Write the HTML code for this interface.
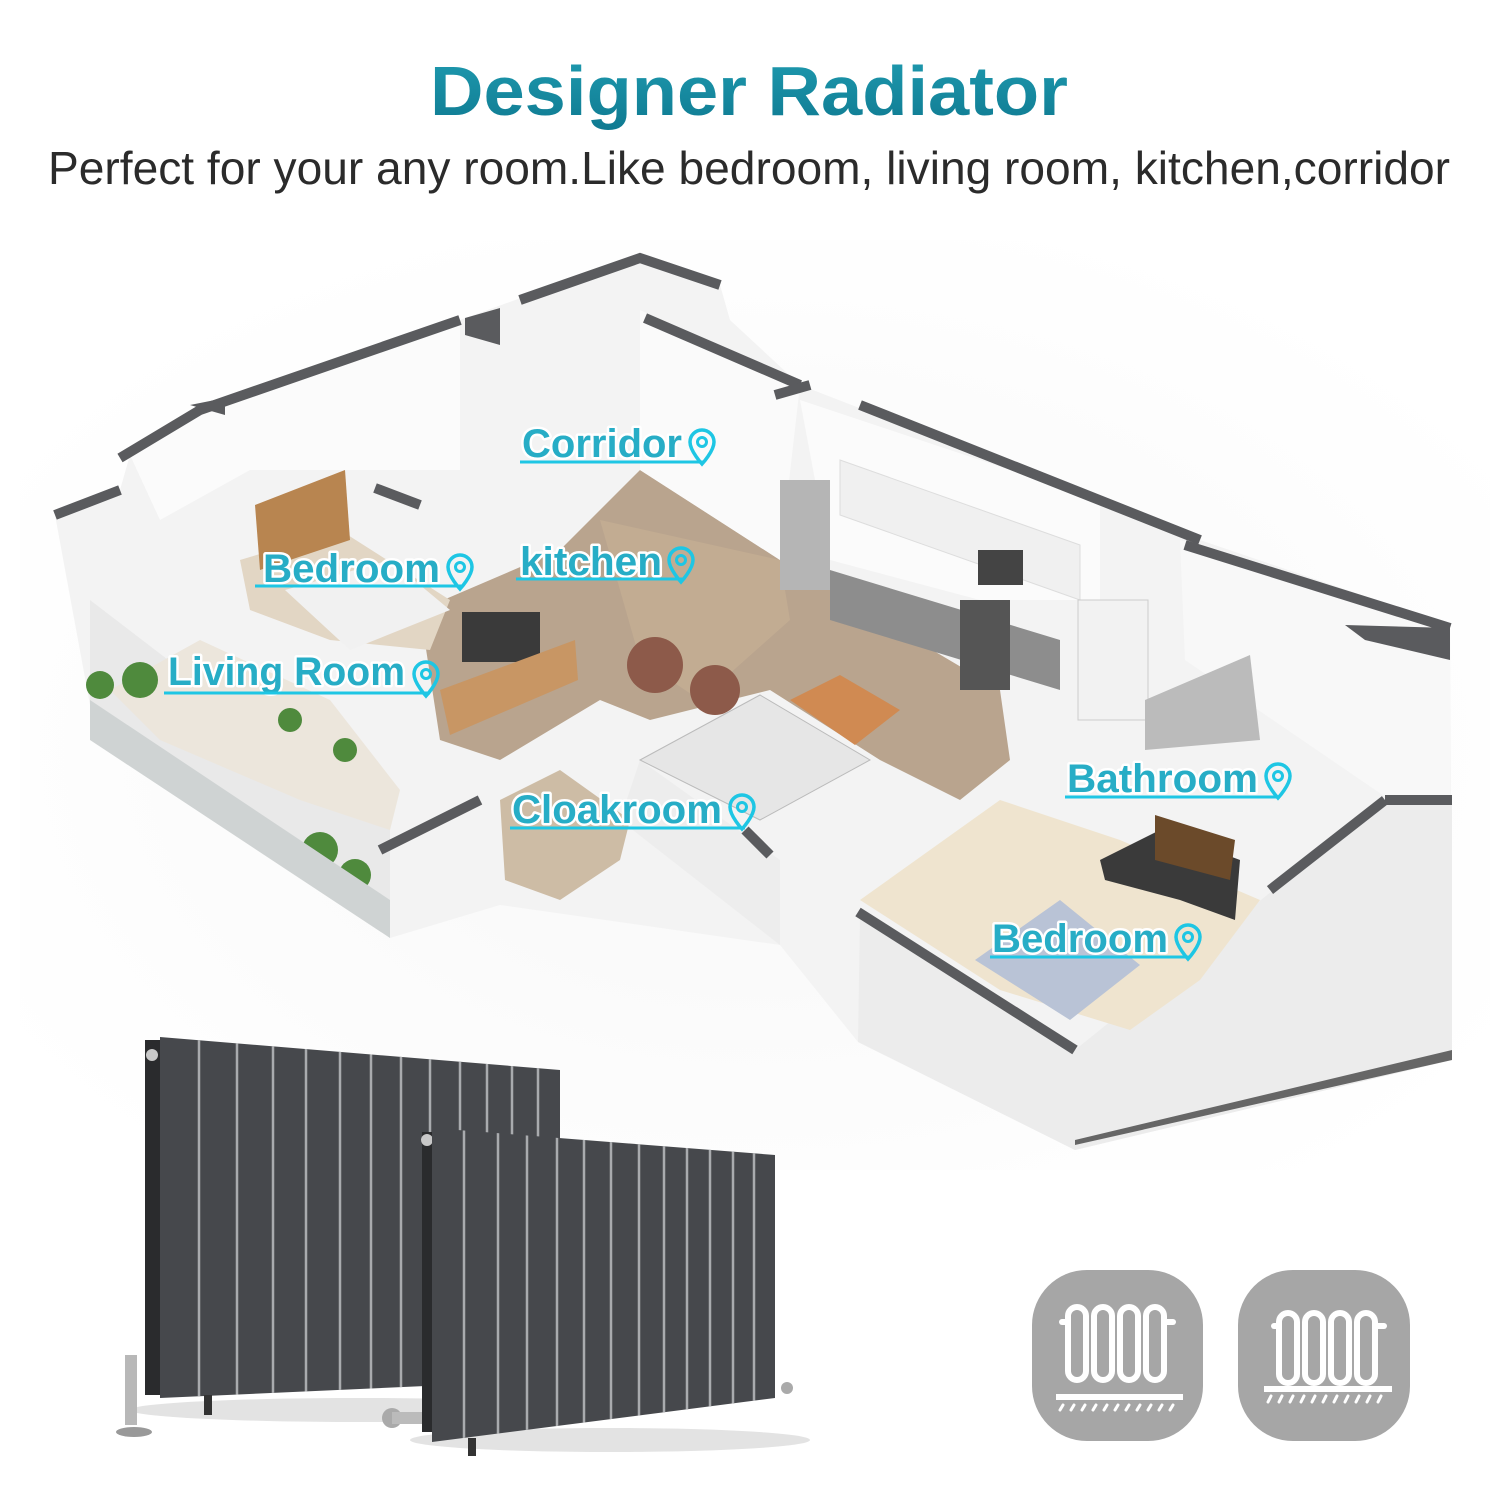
<!DOCTYPE html>
<html><head><meta charset="utf-8"><style>
html,body{margin:0;padding:0;background:#fff}
svg{display:block}
.lb{font-family:"Liberation Sans",sans-serif;font-weight:bold;font-size:40px;fill:#27adc6;stroke:#fff;stroke-width:5px;paint-order:stroke;stroke-linejoin:round}
</style></head><body>
<svg width="1500" height="1500" viewBox="0 0 1500 1500" xmlns="http://www.w3.org/2000/svg">
<defs>
<linearGradient id="tg" x1="0" y1="0" x2="0" y2="1"><stop offset="0" stop-color="#1f9bb0"/><stop offset="1" stop-color="#0f7a91"/></linearGradient>
<radialGradient id="bg" cx="0.5" cy="0.55" r="0.6"><stop offset="0" stop-color="#f7f7f7"/><stop offset="1" stop-color="#ffffff"/></radialGradient>
<clipPath id="cb"><polygon points="160,1037 560,1070 560,1380 160,1398"/></clipPath>
<clipPath id="cf"><polygon points="432,1128 775,1155 775,1398 432,1442"/></clipPath>
<g id="pin"><path d="M0,-22 a12,12 0 0 1 12,12 c0,9 -12,22 -12,22 c0,0 -12,-13 -12,-22 a12,12 0 0 1 12,-12z" fill="none" stroke="#1ec6e4" stroke-width="3.5"/><circle cx="0" cy="-10" r="4.5" fill="none" stroke="#1ec6e4" stroke-width="3"/></g>
</defs>
<rect width="1500" height="1500" fill="#fff"/>
<rect x="20" y="240" width="1470" height="930" fill="url(#bg)"/>

<text x="749" y="115" text-anchor="middle" font-family="Liberation Sans,sans-serif" font-weight="bold" font-size="70" fill="url(#tg)" textLength="638" lengthAdjust="spacingAndGlyphs">Designer Radiator</text>
<text x="48" y="184" font-family="Liberation Sans,sans-serif" font-size="46" fill="#2b2b2b" textLength="1402" lengthAdjust="spacingAndGlyphs">Perfect for your any room.Like bedroom, living room, kitchen,corridor</text>

<!-- floor plan base (walls/exterior) -->
<polygon points="55,515 120,490 130,455 200,410 460,320 640,255 720,285 730,320 800,385 1200,540 1450,625 1452,1060 1075,1150 858,1042 780,945 500,905 390,938 90,705" fill="#f3f3f3"/>
<!-- exterior front walls shading -->
<polygon points="90,705 390,938 390,830 90,600" fill="#e9e9e9"/>
<polygon points="860,915 1075,1050 1385,800 1452,800 1452,1060 1075,1150 858,1042" fill="#ececec"/>
<polygon points="620,820 780,945 780,860 640,760" fill="#ededed"/>
<!-- floors -->
<polygon points="420,610 560,550 640,470 780,560 1000,690 1010,760 960,800 880,760 770,690 650,720 600,700 500,760 440,740" fill="#b9a48e"/>
<polygon points="600,520 780,560 790,620 700,700 640,660" fill="#c2ac92"/>
<polygon points="240,560 340,530 450,600 430,650 330,640 250,610" fill="#e2d6c4"/>
<polygon points="110,690 200,640 330,700 400,790 390,830 300,800 160,740" fill="#ece6dc"/>
<polygon points="860,900 1000,800 1120,840 1260,900 1200,980 1130,1030 1000,990" fill="#efe4cf"/>
<polygon points="500,800 560,770 630,820 620,860 560,900 505,880" fill="#cdbca5"/>
<!-- interior walls/white blocks -->
<polygon points="640,310 800,385 780,560 640,470" fill="#fafafa"/>
<polygon points="800,400 1100,500 1100,600 980,600 830,560" fill="#fbfbfb"/>
<polygon points="130,455 200,410 460,320 460,470 250,470 160,520" fill="#fbfbfb"/>
<polygon points="1180,540 1450,625 1450,800 1390,800 1185,660" fill="#f8f8f8"/>
<!-- kitchen cabinets & appliances -->
<polygon points="840,460 1080,545 1080,600 840,515" fill="#f0f0f0" stroke="#ddd"/>
<polygon points="830,570 1060,640 1060,690 830,620" fill="#8d8d8d"/>
<rect x="780" y="480" width="50" height="110" fill="#b5b5b5"/>
<rect x="960" y="600" width="50" height="90" fill="#555"/>
<rect x="978" y="550" width="45" height="35" fill="#444"/>
<rect x="1078" y="600" width="70" height="120" fill="#f2f2f2" stroke="#ccc"/>
<!-- bedroom1 -->
<polygon points="255,505 345,470 350,540 260,570" fill="#b88550"/>
<polygon points="285,590 390,560 450,610 350,650" fill="#f1f1f1"/>
<!-- living tv etc -->
<rect x="462" y="612" width="78" height="50" fill="#3a3a3a"/>
<polygon points="440,690 575,640 578,680 450,735" fill="#c89664"/>
<circle cx="655" cy="665" r="28" fill="#8d5a4a"/>
<circle cx="715" cy="690" r="25" fill="#8d5a4a"/>
<polygon points="790,700 840,675 900,710 855,745" fill="#d08a52"/>
<polygon points="640,760 760,695 870,760 760,820" fill="#e6e6e6" stroke="#bbb"/>
<!-- bathroom top -->
<polygon points="1145,700 1250,655 1260,740 1145,750" fill="#bbb"/>
<rect x="1428" y="1000" width="0" height="0"/>
<polygon points="1100,860 1160,830 1240,860 1235,920 1180,900 1105,880" fill="#3a3a3a"/>
<polygon points="1155,815 1235,840 1230,880 1155,860" fill="#6b4a2a"/>
<polygon points="975,960 1060,900 1140,965 1070,1020" fill="#b9c3d6"/>
<!-- balcony plants -->
<g fill="#4f8a3d"><circle cx="100" cy="685" r="14"/><circle cx="140" cy="680" r="18"/><circle cx="320" cy="850" r="18"/><circle cx="355" cy="875" r="16"/><circle cx="290" cy="720" r="12"/><circle cx="345" cy="750" r="12"/></g>
<polygon points="90,700 390,900 390,938 90,740" fill="#cfd3d3"/>
<!-- wall tops -->
<g fill="none" stroke="#5a5b5e" stroke-width="10" stroke-linejoin="miter">
<polyline points="55,515 120,490"/>
<polyline points="120,458 200,410 460,320"/>
<polyline points="520,300 640,258 720,285"/>
<polyline points="645,318 800,385"/>
<polyline points="775,395 810,385"/>
<polyline points="860,405 1200,540"/>
<polyline points="1185,545 1450,628"/>
<polyline points="375,488 420,505"/>
<polyline points="1385,800 1452,800"/>
<polyline points="1270,890 1385,800"/>
<polyline points="858,912 1075,1050"/>
<polyline points="380,850 480,800"/>
<polyline points="745,830 770,855"/>
</g>
<polygon points="1345,625 1450,628 1450,660 1365,640" fill="#5a5b5e"/>
<polygon points="465,318 500,308 500,345 465,335" fill="#5a5b5e"/>
<polygon points="190,405 225,398 225,415" fill="#5a5b5e"/>
<polygon points="1075,1145 1452,1060 1452,1050 1075,1140" fill="#666"/>

<!-- labels -->
<g class="lb">
<text x="522" y="457" textLength="160" lengthAdjust="spacingAndGlyphs">Corridor</text>
<text x="263" y="582" textLength="177" lengthAdjust="spacingAndGlyphs">Bedroom</text>
<text x="520" y="575" textLength="142" lengthAdjust="spacingAndGlyphs">kitchen</text>
<text x="168" y="685" textLength="237" lengthAdjust="spacingAndGlyphs">Living Room</text>
<text x="512" y="823" textLength="210" lengthAdjust="spacingAndGlyphs">Cloakroom</text>
<text x="1067" y="792" textLength="191" lengthAdjust="spacingAndGlyphs">Bathroom</text>
<text x="992" y="952" textLength="176" lengthAdjust="spacingAndGlyphs">Bedroom</text>
</g>
<g stroke="#1ec6e4" stroke-width="3">
<line x1="520" y1="462" x2="704" y2="462"/>
<line x1="255" y1="586" x2="462" y2="586"/>
<line x1="516" y1="579" x2="684" y2="579"/>
<line x1="164" y1="693" x2="430" y2="693"/>
<line x1="510" y1="828" x2="745" y2="828"/>
<line x1="1065" y1="797" x2="1280" y2="797"/>
<line x1="990" y1="957" x2="1190" y2="957"/>
</g>
<use href="#pin" x="702" y="452"/>
<use href="#pin" x="460" y="577"/>
<use href="#pin" x="681" y="570"/>
<use href="#pin" x="426" y="684"/>
<use href="#pin" x="742" y="817"/>
<use href="#pin" x="1278" y="786"/>
<use href="#pin" x="1188" y="947"/>

<!-- radiators -->
<ellipse cx="360" cy="1410" rx="230" ry="12" fill="#e3e3e3"/>
<ellipse cx="610" cy="1440" rx="200" ry="12" fill="#e3e3e3"/>
<rect x="145" y="1040" width="16" height="355" fill="#2a2b2d"/>
<circle cx="152" cy="1055" r="6" fill="#c8c8c8"/>
<g clip-path="url(#cb)">
<rect x="150" y="1030" width="420" height="380" fill="#46484c"/>
<g stroke="#a9abae" stroke-width="2.5">
<line x1="199" y1="1000" x2="199" y2="1420"/><line x1="237" y1="1000" x2="237" y2="1420"/><line x1="273" y1="1000" x2="273" y2="1420"/><line x1="306" y1="1000" x2="306" y2="1420"/><line x1="340" y1="1000" x2="340" y2="1420"/><line x1="371" y1="1000" x2="371" y2="1420"/><line x1="401" y1="1000" x2="401" y2="1420"/><line x1="430" y1="1000" x2="430" y2="1420"/><line x1="460" y1="1000" x2="460" y2="1420"/><line x1="487" y1="1000" x2="487" y2="1420"/><line x1="512" y1="1000" x2="512" y2="1420"/><line x1="538" y1="1000" x2="538" y2="1420"/>
</g></g>
<rect x="125" y="1355" width="12" height="70" fill="#b8b8b8"/>
<ellipse cx="134" cy="1432" rx="18" ry="5" fill="#999"/>
<rect x="204" y="1395" width="8" height="20" fill="#333"/>
<circle cx="392" cy="1418" r="10" fill="#aaa"/>
<rect x="392" y="1412" width="42" height="12" fill="#bbb"/>
<rect x="422" y="1132" width="12" height="300" fill="#2a2b2d"/>
<circle cx="427" cy="1140" r="6" fill="#c8c8c8"/>
<g clip-path="url(#cf)">
<rect x="425" y="1120" width="360" height="330" fill="#46484c"/>
<g stroke="#a9abae" stroke-width="2.5">
<line x1="464" y1="1100" x2="464" y2="1450"/><line x1="498" y1="1100" x2="498" y2="1450"/><line x1="527" y1="1100" x2="527" y2="1450"/><line x1="557" y1="1100" x2="557" y2="1450"/><line x1="584" y1="1100" x2="584" y2="1450"/><line x1="611" y1="1100" x2="611" y2="1450"/><line x1="639" y1="1100" x2="639" y2="1450"/><line x1="664" y1="1100" x2="664" y2="1450"/><line x1="687" y1="1100" x2="687" y2="1450"/><line x1="710" y1="1100" x2="710" y2="1450"/><line x1="733" y1="1100" x2="733" y2="1450"/><line x1="754" y1="1100" x2="754" y2="1450"/>
</g></g>
<rect x="468" y="1438" width="8" height="18" fill="#333"/>
<circle cx="787" cy="1388" r="6" fill="#aaa"/>

<!-- icons -->
<rect x="1032" y="1270" width="171" height="171" rx="55" fill="#a6a6a6"/>
<rect x="1238" y="1270" width="172" height="171" rx="55" fill="#a6a6a6"/>
<g fill="none" stroke="#fff" stroke-width="6" stroke-linecap="round">
<g transform="translate(1020,1260)">
<rect x="48" y="47" width="18" height="73" rx="9"/><rect x="74" y="47" width="18" height="73" rx="9"/><rect x="100" y="47" width="18" height="73" rx="9"/><rect x="126" y="47" width="18" height="73" rx="9"/>
<line x1="42" y1="62" x2="48" y2="62"/><line x1="144" y1="62" x2="153" y2="62"/>
<line x1="36" y1="137" x2="163" y2="137" stroke-linecap="butt"/>
<path d="M40,150 l3,-5 M51,150 l3,-5 M62,150 l3,-5 M73,150 l3,-5 M84,150 l3,-5 M95,150 l3,-5 M106,150 l3,-5 M117,150 l3,-5 M128,150 l3,-5 M139,150 l3,-5 M150,150 l3,-5" stroke-width="3"/>
</g>
<g transform="translate(1226,1260)">
<rect x="53" y="53" width="18" height="70" rx="9"/><rect x="79" y="53" width="18" height="70" rx="9"/><rect x="105" y="53" width="18" height="70" rx="9"/><rect x="131" y="53" width="18" height="70" rx="9"/>
<line x1="48" y1="66" x2="53" y2="66"/><line x1="149" y1="66" x2="158" y2="66"/>
<line x1="38" y1="129" x2="166" y2="129" stroke-linecap="butt"/>
<path d="M42,142 l3,-6 M53,142 l3,-6 M64,142 l3,-6 M75,142 l3,-6 M86,142 l3,-6 M97,142 l3,-6 M108,142 l3,-6 M119,142 l3,-6 M130,142 l3,-6 M141,142 l3,-6 M152,142 l3,-6" stroke-width="3"/>
</g>
</g>
</svg>
</body></html>
